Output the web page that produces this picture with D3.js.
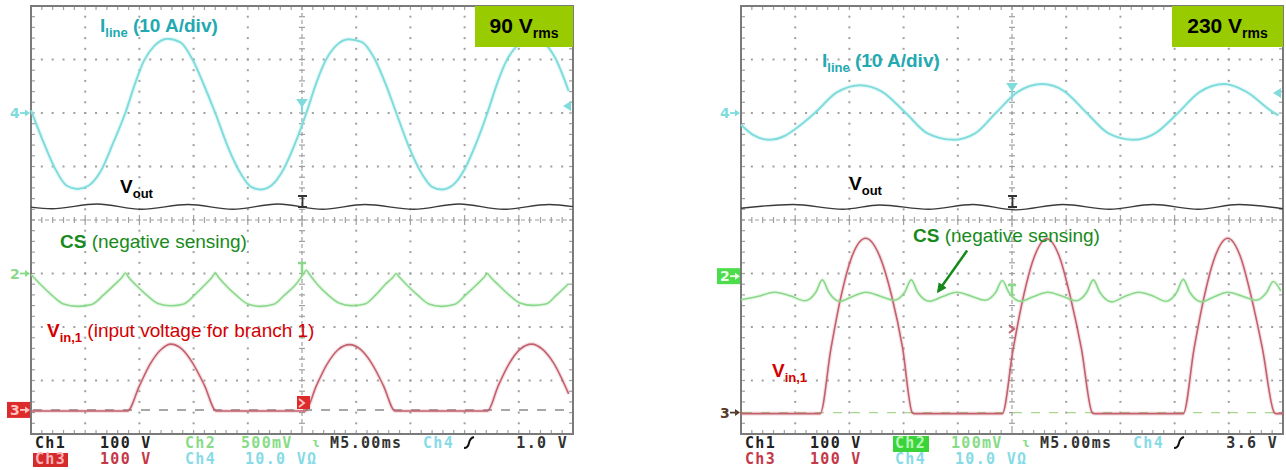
<!DOCTYPE html>
<html>
<head>
<meta charset="utf-8">
<script src="https://cdn.jsdelivr.net/npm/d3@7/dist/d3.min.js"></script>
<style>
  body { margin: 0; background: #fff; }
  svg { display: block; }
</style>
</head>
<body>
<div id="chart"></div>
<script>
// scope captures, time in ms (5 ms/div, 10 div), values in channel units
// ---- 90 Vrms ----
const iline90 = [[0,0.5],[1.1,-5.2],[2.2,-10.3],[3.3,-13.6],[4.3,-14.2],[5.3,-13.6],[6.4,-11.0],[7.6,-5.5],[8.7,0],
  [9.6,5.5],[10.4,9.7],[11.4,12.6],[12.6,13.9],[13.8,13.2],[14.9,10.0],[16.0,5.0],[17.0,0],
  [18.2,-6.5],[19.4,-11.5],[20.3,-13.8],[21.2,-14.3],[22.2,-13.5],[23.3,-10.5],[24.4,-5.5],[25.4,0],
  [26.3,5.5],[27.1,9.5],[28.1,12.5],[29.3,13.8],[30.5,13.3],[31.6,10.5],[32.7,5.5],[33.7,0],
  [34.9,-6.5],[36.1,-11.5],[37.0,-13.8],[37.9,-14.3],[38.9,-13.5],[40.0,-10.5],[41.1,-5.5],[42.1,0],
  [43.0,5.5],[43.8,9.5],[44.8,12.5],[46.0,13.8],[47.2,13.2],[48.3,10.5],[49.6,4.1]];
const vout90 = [[0,400],[1.9,397],[6.1,406],[10.2,396],[14.5,405],[18.6,396],[22.8,406],[26.9,396],
  [30.8,405],[35.3,396],[39.5,406],[43.6,396],[47.8,405],[50,401]];
const cs90 = [[0,-10],[1.0,-115],[2.0,-210],[3.0,-285],[4.3,-307],[5.6,-290],[6.7,-200],[7.7,-105],[8.4,-35],[8.7,5],[9.0,-35],
  [9.7,-110],[10.7,-205],[11.7,-280],[12.9,-302],[14.1,-285],[15.1,-200],[16.0,-110],[16.7,-35],[17.0,5],[17.3,-35],
  [18.0,-115],[19.0,-210],[20.0,-285],[21.2,-307],[22.4,-288],[23.4,-200],[24.4,-105],[25.1,-10],[25.4,30],[25.7,-10],
  [26.4,-100],[27.4,-200],[28.4,-275],[29.6,-300],[30.8,-285],[31.8,-200],[32.7,-100],[33.4,-35],[33.7,0],[34.0,-35],
  [34.7,-110],[35.7,-205],[36.7,-285],[37.9,-307],[39.1,-288],[40.1,-200],[41.1,-105],[41.8,-35],[42.1,0],[42.4,-35],
  [43.1,-105],[44.1,-200],[45.1,-275],[46.3,-298],[47.5,-285],[48.5,-200],[49.6,-95]];
const vin90 = [[0,-2],[8.9,-2],[10.0,45],[11.0,86],[12.0,113],[12.9,123],[13.9,114],[14.9,88],[16.0,46],[17.1,-2],
  [25.3,-2],[26.3,44],[27.3,85],[28.3,112],[29.4,122],[30.4,113],[31.4,88],[32.5,46],[33.6,-2],
  [42.1,-2],[43.1,45],[44.1,86],[45.1,113],[46.2,123],[47.2,113],[48.2,88],[49.6,30]];

// ---- 230 Vrms ----
const iline230 = [[0,-2.2],[1.2,-4.2],[2.6,-5.0],[4.0,-4.3],[5.0,-3.0],[6.8,0],[8.8,3.8],[11.0,5.2],[13.0,4.0],[15.2,0],
  [17.2,-3.8],[19.6,-5.0],[21.6,-3.8],[23.5,0],[25.5,3.9],[27.8,5.4],[29.8,4.1],[31.9,0],[33.9,-3.8],[36.2,-5.0],
  [38.2,-3.8],[40.3,0],[42.3,3.9],[44.6,5.4],[46.6,4.0],[49.2,0],[49.6,-0.4]];
const vout230 = [[0,398],[4.8,405],[9.4,396],[12.8,404],[17.3,396],[21.4,405],[25.3,395],[29.7,405],
  [34.0,396],[38.0,405],[42.2,396],[45.9,405],[50,397]];
const cs230 = [[0,-44],[1.5,-38],[3.1,-30],[4.6,-37],[5.9,-46],[6.9,-30],[7.5,-7],[8.1,-30],[9.1,-47],[10.3,-38],
  [11.5,-30],[12.8,-37],[14.1,-45],[15.1,-30],[15.7,-7],[16.3,-30],[17.4,-47],[18.6,-38],[19.9,-30],[21.2,-37],
  [22.5,-45],[23.5,-30],[24.1,-8],[24.7,-30],[25.8,-47],[27.0,-38],[28.3,-30],[29.6,-37],[30.9,-46],[31.9,-30],
  [32.5,-7],[33.1,-30],[34.2,-48],[35.4,-38],[36.7,-30],[38.0,-37],[39.2,-47],[40.2,-30],[40.8,-6],[41.4,-30],
  [42.5,-48],[43.7,-38],[44.9,-30],[46.2,-37],[47.5,-45],[48.5,-30],[49.1,-10],[49.8,-28]];
const vin230 = [[0,-2],[7.3,-2],[8.3,120],[9.2,215],[10.2,290],[11.5,326],[12.8,292],[13.9,218],[14.9,122],[15.8,0],[16.0,-2],
  [24.1,-2],[25.1,118],[26.0,212],[27.0,288],[28.2,325],[29.4,290],[30.4,215],[31.4,120],[32.4,0],[32.6,-2],
  [40.8,-2],[41.8,120],[42.7,214],[43.7,290],[44.9,326],[46.1,290],[47.1,214],[48.1,120],[49.2,0],[49.4,-2],[50,-2]];

// channel settings: volts (or A, mV) per div and ground position in div
const ch90  = { vout: [100, -3.76], cs: [500, -1.0],  vin: [100, -3.55], iline: [10, 2.0] };
const ch230 = { vout: [100, -3.76], cs: [100, -1.05], vin: [100, -3.6],  iline: [10, 2.0] };

const titles = ["90", "230"];
const status1_90  = ["Ch1", "100 V", "Ch2", "500mV", "M5.00ms", "Ch4", "1.0 V"];
const status1_230 = ["Ch1", "100 V", "Ch2", "100mV", "M5.00ms", "Ch4", "3.6 V"];
const status2     = ["Ch3", "100 V", "Ch4", "10.0 VΩ"];

const W = 1286, H = 470;
const C = {
  cyan: "#80dcdc", cyanLbl: "#22a9b1", cyanTxt: "#86dbe6",
  green: "#8ad88a", greenLbl: "#178a1b", greenTxt: "#88dc88",
  red: "#c4606e", redLbl: "#d40000", redTxt: "#c43848",
  grid: "#a0a0a0", frame: "#7a7a7a", box: "#99cc00"
};

const svg = d3.select("#chart").append("svg")
  .attr("width", W).attr("height", H)
  .style("font-family", "'Liberation Sans', Arial, sans-serif");

svg.append("rect").attr("width", W).attr("height", H).attr("fill", "#fff");

svg.append("defs").append("marker")
  .attr("id", "arrowhead")
  .attr("viewBox", "0 -5 10 10")
  .attr("refX", 8).attr("refY", 0)
  .attr("orient", "auto")
  .attr("markerWidth", 4).attr("markerHeight", 4)
  .append("path")
  .attr("d", "M0,-5L10,0L0,5Z")
  .attr("fill", C.greenLbl);

function sub(el, main, s, rest, size, subSize) {
  el.append("tspan").text(main);
  el.append("tspan").attr("font-size", subSize).attr("dy", 5).text(s);
  if (rest) el.append("tspan").attr("dy", -5).text(rest);
}

function drawPanel(left, traces, ch, opt) {
  const g = svg.append("g");
  const x = d3.scaleLinear().domain([0, 50]).range([left, left + 542]);
  const y = d3.scaleLinear().domain([-4, 4]).range([434, 6]);
  const yc = (c) => (v) => y(c[1] + v / c[0]);

  g.append("rect").attr("x", x(0)).attr("y", y(4))
    .attr("width", x(50) - x(0)).attr("height", y(-4) - y(4)).attr("fill", "#fff");

  const minorX = d3.range(1, 50, 1);
  const minorY = d3.range(-3.8, 3.9, 0.2);

  // dotted division lines
  const dots = g.append("g").attr("fill", C.grid);
  [5, 10, 15, 20, 30, 35, 40, 45].forEach(t => {
    dots.selectAll(null).data(minorY).enter().append("rect")
      .attr("x", x(t) - 1).attr("y", d => y(d) - 1).attr("width", 2).attr("height", 2);
  });
  [-3, -2, -1, 1, 2, 3].forEach(v => {
    dots.selectAll(null).data(minorX).enter().append("rect")
      .attr("x", d => x(d) - 1).attr("y", y(v) - 1).attr("width", 2).attr("height", 2);
  });

  // center axes with minor ticks
  const ax = g.append("g").attr("stroke", C.grid).attr("stroke-width", 1.2);
  ax.append("line").attr("x1", x(0)).attr("x2", x(50)).attr("y1", y(0)).attr("y2", y(0))
    .attr("stroke-dasharray", "4,3");
  ax.append("line").attr("x1", x(25)).attr("x2", x(25)).attr("y1", y(4)).attr("y2", y(-4))
    .attr("stroke-dasharray", "4,3");
  ax.selectAll(null).data(minorX).enter().append("line")
    .attr("x1", d => x(d)).attr("x2", d => x(d))
    .attr("y1", d => y(0) - (d % 5 === 0 ? 5 : 3)).attr("y2", d => y(0) + (d % 5 === 0 ? 5 : 3));
  ax.selectAll(null).data(minorY).enter().append("line")
    .attr("y1", d => y(d)).attr("y2", d => y(d))
    .attr("x1", x(25) - 3).attr("x2", x(25) + 3);

  // frame ticks
  ax.selectAll(null).data(minorX).enter().append("line")
    .attr("x1", d => x(d)).attr("x2", d => x(d)).attr("y1", y(4)).attr("y2", y(4) + 4);
  ax.selectAll(null).data(minorX).enter().append("line")
    .attr("x1", d => x(d)).attr("x2", d => x(d)).attr("y1", y(-4)).attr("y2", y(-4) - 4);
  ax.selectAll(null).data(minorY).enter().append("line")
    .attr("y1", d => y(d)).attr("y2", d => y(d)).attr("x1", x(0)).attr("x2", x(0) + 4);
  ax.selectAll(null).data(minorY).enter().append("line")
    .attr("y1", d => y(d)).attr("y2", d => y(d)).attr("x1", x(50)).attr("x2", x(50) - 4);

  g.append("rect").attr("x", x(0)).attr("y", y(4))
    .attr("width", x(50) - x(0)).attr("height", y(-4) - y(4))
    .attr("fill", "none").attr("stroke", C.frame).attr("stroke-width", 2);

  // ch3 ground reference (dashed)
  g.append("line").attr("x1", x(0) + 2).attr("x2", x(50) - 2)
    .attr("y1", yc(ch.vin)(0)).attr("y2", yc(ch.vin)(0))
    .attr("stroke", opt.dashColor).attr("stroke-width", 1.4).attr("stroke-dasharray", "9,9");

  // traces
  const tr = (data, c, color, w, glow) => {
    const line = d3.line().x(d => x(d[0])).y(d => yc(c)(d[1])).curve(d3.curveMonotoneX);
    if (glow) g.append("path").attr("d", line(data)).attr("fill", "none")
      .attr("stroke", color).attr("stroke-opacity", 0.18).attr("stroke-width", w + 2.5);
    g.append("path").attr("d", line(data)).attr("fill", "none")
      .attr("stroke", color).attr("stroke-width", w).attr("stroke-linejoin", "round");
  };
  tr(traces.vin, ch.vin, C.red, 1.6, true);
  tr(traces.cs, ch.cs, C.green, 1.6, true);
  tr(traces.vout, ch.vout, "#3a3a3a", 1.4, false);
  tr(traces.iline, ch.iline, C.cyan, 2.0, true);

  // ground markers on the left
  const mk = (yy, label, color, boxFill, txtColor) => {
    const m = g.append("g").attr("transform", `translate(${x(0)},${yy})`);
    if (boxFill) m.append("rect").attr("x", -24).attr("y", -8).attr("width", 23).attr("height", 16).attr("fill", boxFill);
    m.append("text").attr("x", -21).attr("y", 5).attr("font-size", 14).attr("font-weight", "bold")
      .attr("font-family", "'DejaVu Sans', sans-serif").attr("fill", txtColor || color).text(label);
    m.append("line").attr("x1", -11).attr("x2", -5).attr("y1", 0).attr("y2", 0)
      .attr("stroke", txtColor || color).attr("stroke-width", 1.8);
    m.append("path").attr("d", "M-6,-3.5L-1,0L-6,3.5Z").attr("fill", txtColor || color);
  };
  mk(yc(ch.iline)(0), "4", C.cyan);
  if (opt.big) {
    mk(yc(ch.cs)(0), "2", C.green);
    mk(yc(ch.vin)(0), "3", C.red, "#dd2a2a", "#ffc0c0");
  } else {
    mk(yc(ch.cs)(0), "2", C.green, "#4cdc4c", "#eaffea");
    mk(yc(ch.vin)(0), "3", "#5a3a2a");
  }

  // trigger position markers on the center line
  const cx = x(25);
  const tm = g.append("g");
  tm.append("path").attr("d", `M${cx - 4},${opt.trigCyan}h8l-4,6z M${cx},${opt.trigCyan + 5}v8`)
    .attr("fill", C.cyan).attr("stroke", C.cyan).attr("stroke-width", 2);
  tm.append("path").attr("d", `M${cx - 4},${opt.trigGreen}h8 M${cx},${opt.trigGreen}v11`)
    .attr("stroke", C.green).attr("stroke-width", 2.5).attr("fill", "none");
  tm.append("rect").attr("x", cx - 5).attr("y", opt.trigRed).attr("width", 13).attr("height", 13)
    .attr("fill", opt.big ? "#dd2a2a" : "none");
  tm.append("path").attr("d", `M${cx - 3},${opt.trigRed + 3}l5,4l-5,4`)
    .attr("stroke", opt.big ? "#ffc0c0" : C.red).attr("stroke-width", 2).attr("fill", "none");
  tm.append("path").attr("d", `M${cx - 4},196h9 M${cx + 0.5},196v11 M${cx - 4},207h9`)
    .attr("stroke", "#333").attr("stroke-width", 1.8).attr("fill", "none");

  // trigger level marker on the right
  g.append("path").attr("d", `M${x(50) - 2},${opt.levelY - 5}L${x(50) - 10},${opt.levelY}L${x(50) - 2},${opt.levelY + 5}Z`)
    .attr("fill", C.cyan);

  // title box
  g.append("rect").attr("x", x(50) - opt.boxW).attr("y", y(4) + 0).attr("width", opt.boxW).attr("height", 41)
    .attr("fill", C.box);
  const tt = g.append("text").attr("x", x(50) - opt.boxW / 2).attr("y", y(4) + 27)
    .attr("text-anchor", "middle").attr("font-weight", "bold").attr("font-size", 21).attr("fill", "#000");
  sub(tt, opt.title + " V", "rms", null, 21, 14);

  // labels
  const lab = (lx, ly, color) => g.append("text").attr("x", lx).attr("y", ly)
    .attr("font-size", 19).attr("fill", color);
  let t = lab(opt.iline[0], opt.iline[1], C.cyanLbl).attr("font-weight", "bold");
  sub(t, "I", "line", " (10 A/div)", 19, 13);
  t = lab(opt.vout[0], opt.vout[1], "#000").attr("font-weight", "bold");
  sub(t, "V", "out", null, 19, 13);
  t = lab(opt.cs[0], opt.cs[1], C.greenLbl);
  t.append("tspan").attr("font-weight", "bold").text("CS");
  t.append("tspan").text(" (negative sensing)");
  t = lab(opt.vin[0], opt.vin[1], C.redLbl);
  t.append("tspan").attr("font-weight", "bold").text("V");
  t.append("tspan").attr("font-weight", "bold").attr("font-size", 13).attr("dy", 5).text("in,1");
  if (opt.big) t.append("tspan").attr("dy", -5).text(" (input voltage for branch 1)");

  // status lines
  const st = g.append("g").attr("font-family", "'DejaVu Sans Mono', monospace")
    .attr("font-weight", "bold").attr("font-size", 15).attr("letter-spacing", 1.3);
  const r1 = 448, r2 = 464;
  const s1 = opt.status1;
  const colors1 = ["#222", "#222", C.greenTxt, C.greenTxt, "#333", C.cyanTxt];
  const xs1 = [4, 69, 154, 210, 299, 392];
  s1.slice(0, 6).forEach((s, i) => {
    if (i === 2 && !opt.big) {
      st.append("rect").attr("x", left + xs1[i] - 2).attr("y", r1 - 12).attr("width", 36).attr("height", 16)
        .attr("fill", "#3ad43a");
      st.append("text").attr("x", left + xs1[i]).attr("y", r1).attr("fill", "#b8f5b8").text(s);
    } else {
      st.append("text").attr("x", left + xs1[i]).attr("y", r1).attr("fill", colors1[i]).text(s);
    }
  });
  st.append("text").attr("x", left + 537).attr("y", r1).attr("text-anchor", "end").attr("fill", "#333").text(s1[6]);
  st.append("text").attr("x", left + 281).attr("y", r1 - 1).attr("fill", C.greenTxt).attr("font-size", 13).text("ɩ");
  st.append("path").attr("d", `M${left + 433},${r1}q4,0 5,-5t5,-6`).attr("stroke", "#111")
    .attr("stroke-width", 2).attr("fill", "none");
  const colors2 = [opt.big ? "#ffb0b8" : C.redTxt, C.redTxt, C.cyanTxt, C.cyanTxt];
  const xs2 = [4, 69, 154, 214];
  status2.forEach((s, i) => {
    if (i === 0 && opt.big) {
      st.append("rect").attr("x", left + 2).attr("y", r2 - 11).attr("width", 35).attr("height", 14)
        .attr("fill", "#d42a2a");
    }
    st.append("text").attr("x", left + xs2[i]).attr("y", r2).attr("fill", colors2[i]).text(s);
  });

  return { x, y, yc };
}

drawPanel(31, { iline: iline90, vout: vout90, cs: cs90, vin: vin90 }, ch90, {
  big: true, title: titles[0], boxW: 98, dashColor: "#8a8a8a",
  trigCyan: 100, trigGreen: 263, trigRed: 396, levelY: 106,
  iline: [100, 32], vout: [120, 193], cs: [60, 248], vin: [47, 337],
  status1: status1_90
});

const p2 = drawPanel(741, { iline: iline230, vout: vout230, cs: cs230, vin: vin230 }, ch230, {
  big: false, title: titles[1], boxW: 111, dashColor: "#a8d890",
  trigCyan: 84, trigGreen: 285, trigRed: 322, levelY: 93,
  iline: [822, 67], vout: [849, 190], cs: [913, 242], vin: [772, 377],
  status1: status1_230
});

// arrow from the CS label down to the trace
const tipX = p2.x(18.0), tipY = p2.yc(ch230.cs)(-40) - 3;
svg.append("line")
  .attr("x1", tipX + 31).attr("y1", tipY - 44)
  .attr("x2", tipX + 2).attr("y2", tipY - 3)
  .attr("stroke", C.greenLbl).attr("stroke-width", 2.5)
  .attr("marker-end", "url(#arrowhead)");
</script>
</body>
</html>
